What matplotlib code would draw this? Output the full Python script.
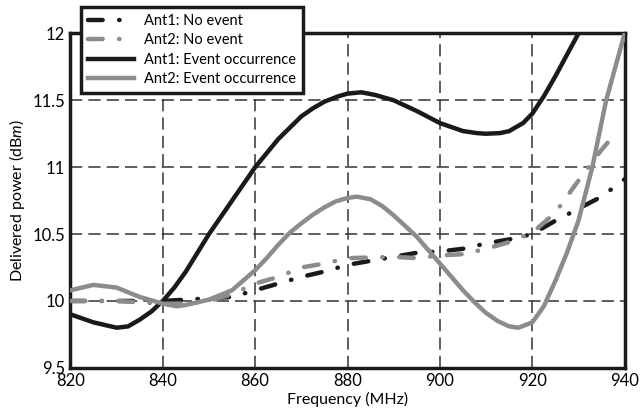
import numpy as np
import matplotlib.pyplot as plt

plt.rcParams['font.family'] = ['Lato', 'DejaVu Sans']
plt.rcParams['mathtext.fontset'] = 'custom'
plt.rcParams['mathtext.it'] = 'Lato:italic'
plt.rcParams['mathtext.rm'] = 'Lato'

# Frequency (MHz) and delivered power (dBm)
f_ev1 = [820, 825, 827.5, 830, 832.5, 835, 837.5, 840, 842.5, 845, 847.5, 850,
         855, 860, 865, 870, 872.5, 875, 878, 880, 883, 886, 890, 895, 900,
         905, 908, 910, 913, 915, 918, 920, 922.5, 925, 927.5, 930, 932]
p_ev1 = [9.90, 9.84, 9.82, 9.80, 9.81, 9.86, 9.92, 10.00, 10.10, 10.22, 10.36,
         10.50, 10.75, 11.00, 11.21, 11.38, 11.44, 11.49, 11.53, 11.55, 11.56,
         11.54, 11.50, 11.42, 11.33, 11.27, 11.255, 11.25, 11.255, 11.27, 11.33,
         11.40, 11.53, 11.68, 11.84, 12.00, 12.15]

f_ev2 = [820, 825, 830, 835, 840, 843, 845, 850, 855, 860, 862.5, 865, 867.5,
         870, 872.5, 875, 877.5, 880, 882, 885, 887.5, 890, 892.5, 895, 897.5,
         900, 902.5, 905, 907.5, 910, 912.5, 915, 917, 920, 922.5, 925, 927.5,
         930, 933, 936, 940]
p_ev2 = [10.08, 10.12, 10.10, 10.03, 9.98, 9.96, 9.97, 10.01, 10.08, 10.23,
         10.32, 10.42, 10.51, 10.58, 10.645, 10.70, 10.745, 10.77, 10.78, 10.76,
         10.71, 10.64, 10.56, 10.48, 10.38, 10.28, 10.18, 10.08, 9.99, 9.91,
         9.85, 9.81, 9.80, 9.84, 9.96, 10.15, 10.36, 10.60, 11.00, 11.50, 12.00]

f_no1 = [820, 830, 840, 850, 855, 860, 865, 870, 875, 880, 890, 895, 900, 905,
         910, 915, 920, 925, 930, 935, 940]
p_no1 = [10.00, 10.00, 10.00, 10.02, 10.03, 10.08, 10.13, 10.18, 10.22, 10.27,
         10.33, 10.36, 10.37, 10.39, 10.43, 10.46, 10.50, 10.60, 10.69, 10.78, 10.91]

f_no2 = [820, 830, 840, 845, 850, 855, 860, 865, 870, 875, 880, 890, 895, 900,
         905, 910, 915, 920, 925, 930, 935, 938]
p_no2 = [10.00, 10.00, 9.98, 9.98, 10.00, 10.05, 10.13, 10.18, 10.25, 10.28,
         10.32, 10.33, 10.32, 10.34, 10.35, 10.39, 10.44, 10.51, 10.66, 10.90,
         11.13, 11.25]

xticks = [820, 840, 860, 880, 900, 920, 940]
yticks = [9.5, 10, 10.5, 11, 11.5, 12]
ytick_labels = ['9.5', '10', '10.5', '11', '11.5', '12']

black = '#1a1a1a'
gray = '#8c8c8c'

fig = plt.figure(figsize=(6.4, 4.18), dpi=100)
ax = fig.add_axes([0.11, 0.12, 0.866, 0.8])

dd = (3.3, 3.7, 0.1, 3.7)
ax.plot(f_no1, p_no1, color=black, lw=3.2, dashes=dd, dash_capstyle='round',
        label='Ant1: No event', zorder=3)
ax.plot(f_no2, p_no2, color=gray, lw=3.2, dashes=dd, dash_capstyle='round',
        label='Ant2: No event', zorder=3)
ax.plot(f_ev1, p_ev1, color=black, lw=3.2, label='Ant1: Event occurrence', zorder=4)
ax.plot(f_ev2, p_ev2, color=gray, lw=3.2, label='Ant2: Event occurrence', zorder=4)

ax.set_xlim(820, 940)
ax.set_ylim(9.5, 12)
ax.set_xticks(xticks)
ax.set_yticks(yticks)
ax.set_yticklabels(ytick_labels)
ax.tick_params(length=0, labelsize=12, pad=4)
ax.grid(True, color='#333333', lw=1.1, linestyle=(0, (8, 4)))
for s in ax.spines.values():
    s.set_linewidth(2.5)
    s.set_color(black)

ax.set_xlabel('Frequency (MHz)', fontsize=11.5, labelpad=2)
ax.set_ylabel('Delivered power (dB$m$)', fontsize=11.5, labelpad=4)

leg = fig.legend(loc='upper left', bbox_to_anchor=(0.122, 0.99), fontsize=10.5,
                 frameon=True, fancybox=False, handlelength=3.2,
                 borderpad=0.45, labelspacing=0.38, handletextpad=0.7,
                 borderaxespad=0.2)
leg.get_frame().set_edgecolor(black)
leg.get_frame().set_linewidth(2.5)
leg.get_frame().set_alpha(1)

fig.savefig('out.png', dpi=100)
